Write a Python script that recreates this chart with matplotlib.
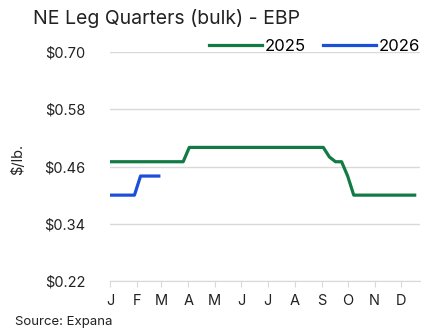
import numpy as np
import matplotlib
import matplotlib.pyplot as plt

matplotlib.use("Agg")
plt.rcParams['font.family'] = ['Inter', 'DejaVu Sans']

# weekly prices, $/lb
weeks_2025 = np.arange(0, 51)
prices_2025 = ([0.47] * 13 + [0.50] * 23 + [0.48] + [0.47] * 2 + [0.44]
               + [0.40] * 11)
weeks_2026 = np.arange(0, 9)
prices_2026 = [0.40] * 5 + [0.44] * 4

month_starts = [0, 31, 59, 90, 120, 151, 181, 212, 243, 273, 304, 334]
month_labels = ['J', 'F', 'M', 'A', 'M', 'J', 'J', 'A', 'S', 'O', 'N', 'D']
y_ticks = [0.22, 0.34, 0.46, 0.58, 0.70]

fig = plt.figure(figsize=(4.25, 3.33), dpi=100)
ax = fig.add_axes([0.259, 0.156, 0.729, 0.688])

ax.plot(weeks_2025 * 7, prices_2025, color='#117a45', lw=2.3, label='2025',
        solid_joinstyle='round')
ax.plot(weeks_2026 * 7, prices_2026, color='#1c4fd9', lw=2.3, label='2026',
        solid_joinstyle='round')

ax.set_xlim(0, 356)
ax.set_ylim(0.22, 0.70)
ax.set_yticks(y_ticks)
ax.set_yticklabels(['${:.2f}'.format(v) for v in y_ticks])
ax.set_xticks(month_starts)
ax.set_xticklabels(month_labels)

ax.grid(axis='y', color='#d9d9d9', lw=1)
ax.set_axisbelow(True)
for s in ['top', 'right', 'left']:
    ax.spines[s].set_visible(False)
ax.spines['bottom'].set_color('#d9d9d9')
ax.tick_params(axis='y', length=0, pad=18, labelsize=10.5, labelcolor='#222222')
ax.tick_params(axis='x', length=4, color='#d9d9d9', pad=5, labelsize=10.5,
               labelcolor='#222222')

ax.set_ylabel('$/lb.', fontsize=10.5, color='#222222')
ax.yaxis.set_label_coords(-0.275, 0.53)

fig.text(0.078, 0.945, 'NE Leg Quarters (bulk) - EBP', fontsize=14,
         color='#222222', va='center')
fig.text(0.035, 0.025, 'Source: Expana', fontsize=9.5, color='#222222')

ax.legend(loc='lower right', bbox_to_anchor=(1.0, 0.99), ncol=2, frameon=False,
          fontsize=12, handlelength=3.2, handletextpad=0.15, columnspacing=1.0,
          borderaxespad=0, borderpad=0)

fig.savefig('out.png', dpi=100)
